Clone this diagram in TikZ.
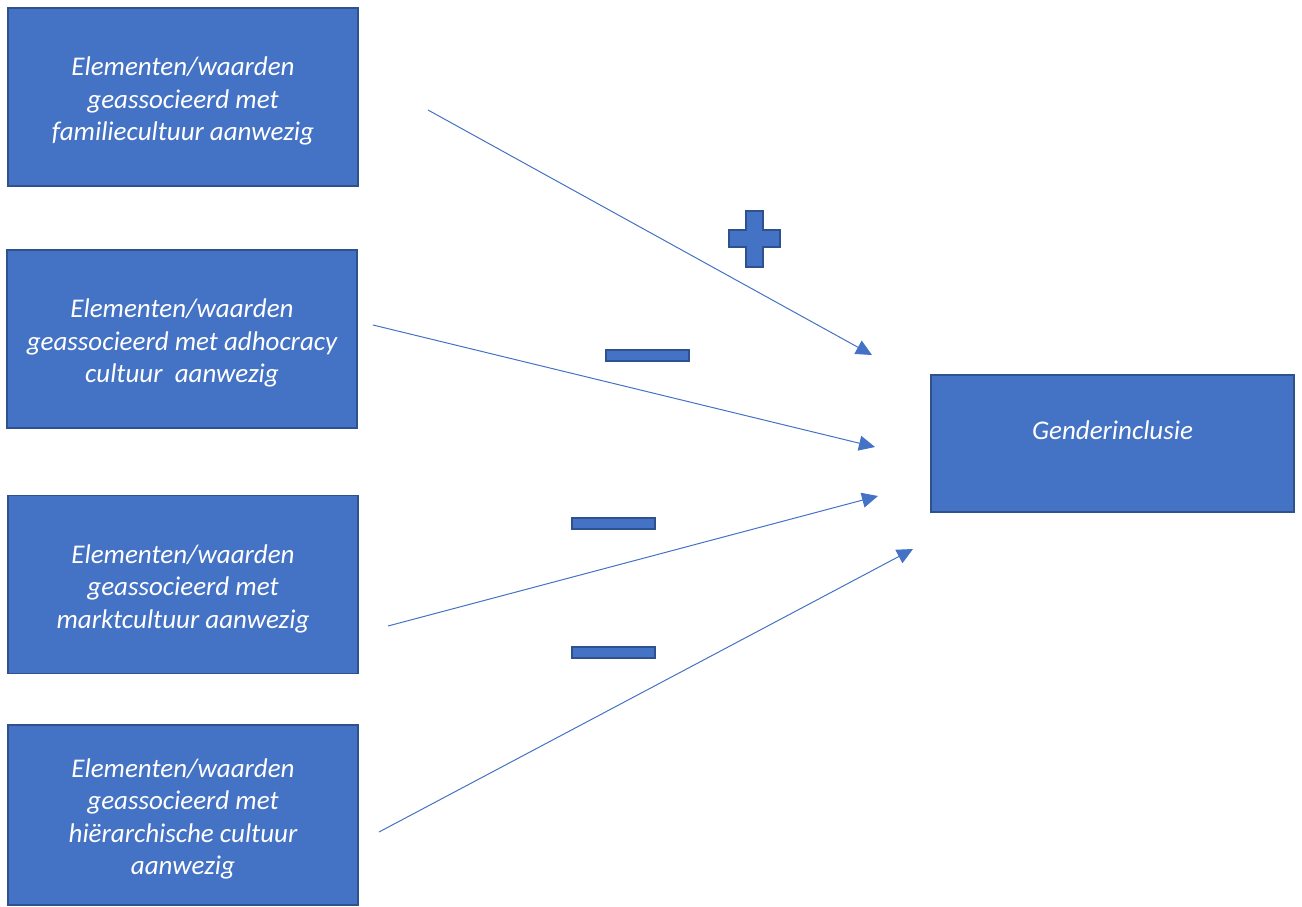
\documentclass[tikz,border=0pt]{standalone}
\usepackage{fontspec}
\setmainfont{Carlito}
\usepackage{xcolor}
\definecolor{boxblue}{HTML}{4472C4}
\definecolor{boxline}{HTML}{2F528F}
\usetikzlibrary{arrows.meta, positioning, calc}

\begin{document}
\begin{tikzpicture}
        [
          x=1pt, y=-1pt,
          cultuurbox/.style={draw=boxline, line width=1.5pt, fill=boxblue, minimum width=350pt, minimum height=178pt},
          tekst/.style={align=center, text=white, font=\fontsize{27}{32.5}\selectfont\itshape},
          teken/.style={draw=boxline, line width=1.5pt, fill=boxblue},
          pijl/.style={-{Triangle[length=16pt,width=15pt]}, draw=boxblue, line width=1pt}
        ]
        \useasboundingbox (0,0) rectangle (1302,906);

        \node[cultuurbox] (1) at (183,97) {};
        \node[cultuurbox] (2) at (182,339) {};
        \node[cultuurbox] (3) at (183,584.5) {};
        \node[cultuurbox, minimum height=180pt] (4) at (183,815) {};
        \node[tekst] (t1) at ([yshift=-4pt]1.center) {Elementen/waarden\\geassocieerd met\\familiecultuur aanwezig};
        \node[tekst] (t2) at ([yshift=-4pt]2.center) {Elementen/waarden\\geassocieerd met adhocracy\\cultuur~ aanwezig};
        \node[tekst] (t3) at ([yshift=-4pt]3.center) {Elementen/waarden\\geassocieerd met\\marktcultuur aanwezig};
        \node[tekst] (t4) at ([yshift=-4pt]4.center) {Elementen/waarden\\geassocieerd met\\hiërarchische cultuur\\aanwezig};
        \node[cultuurbox, tekst, minimum width=363pt, minimum height=137pt, text depth=26pt] (5) at (1112.5,443.5) {Genderinclusie};

        \coordinate (s1) at (428,110);
        \coordinate (s2) at (373,325);
        \coordinate (s3) at (388,626);
        \coordinate (s4) at (379,832);
        \coordinate (e1) at (872,355);
        \coordinate (e2) at (875,447);
        \coordinate (e3) at (878,496);
        \coordinate (e4) at (913,549);

        \path
                          (s1) edge[pijl] (e1)
                          (s2) edge[pijl] (e2)
                          (s3) edge[pijl] (e3)
                          (s4) edge[pijl] (e4);

        \draw[teken] (746,211) -- (763,211) -- (763,230) -- (780,230) -- (780,247) -- (763,247)
          -- (763,267) -- (746,267) -- (746,247) -- (729,247) -- (729,230) -- (746,230) -- cycle;
        \node[teken, minimum width=83pt, minimum height=11pt, inner sep=0pt] (m1) at (647.5,355.5) {};
        \node[teken, minimum width=83pt, minimum height=11pt, inner sep=0pt] (m2) at (613.5,523.5) {};
        \node[teken, minimum width=83pt, minimum height=11pt, inner sep=0pt] (m3) at (613.5,652.5) {};
      \end{tikzpicture}
\end{document}
